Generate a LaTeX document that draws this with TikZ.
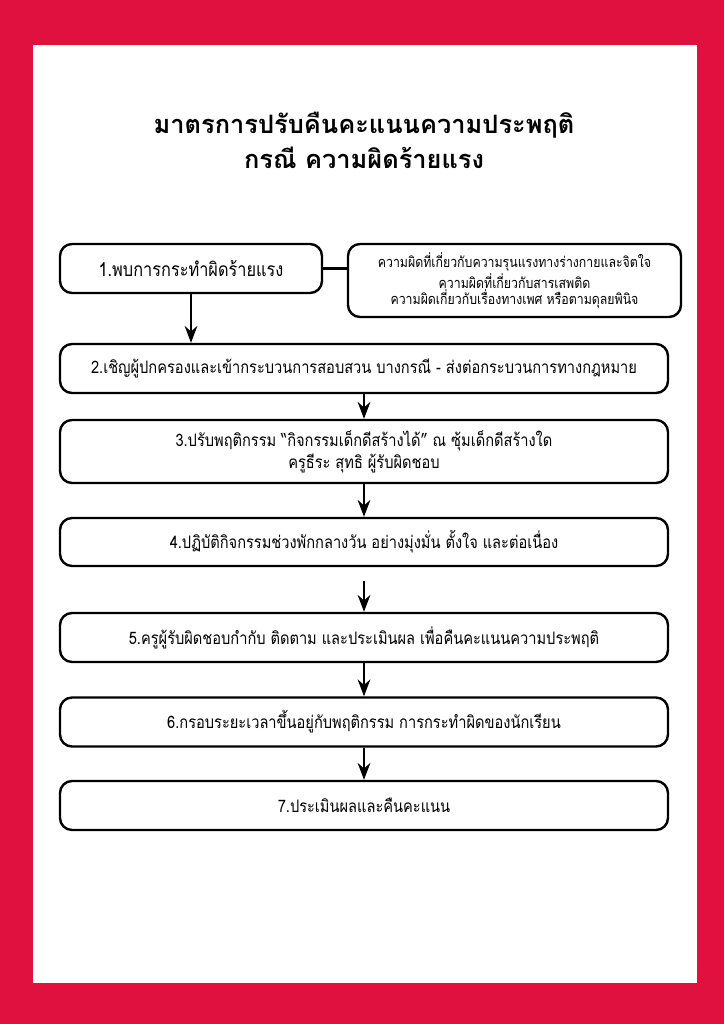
\documentclass[tikz,border=0pt]{standalone}
\usepackage{fontspec}
\setmainfont[Script=Thai, FakeStretch=0.85]{Loma}
\newfontfamily\headfont[Script=Thai]{Loma}
\usepackage{tikz}
\usetikzlibrary{arrows.meta}
\definecolor{pagered}{RGB}{224,17,62}

\begin{document}
\begin{tikzpicture}[x=0.5pt, y=-0.5pt, >=Stealth,
  stepbox/.style={draw, line width=1.2pt, rounded corners=6pt, align=center,
    minimum width=304pt, minimum height=24.5pt, inner sep=0pt, font=\fontsize{8.6}{11}\selectfont},
  notebox/.style={stepbox, minimum width=166.5pt, minimum height=36.5pt, font=\fontsize{7.25}{8.25}\selectfont},
  flow/.style={->, line width=1.2pt}]
  % page
  \fill[pagered] (0,0) rectangle (724,1024);
  \fill[white] (33,45) rectangle (697,983);
  \useasboundingbox (0,0) rectangle (724,1024);

  % heading
  \node[align=center, font=\headfont\bfseries\fontsize{12.7}{17.5}\selectfont] (title) at (364,140)
    {มาตรการปรับคืนคะแนนความประพฤติ\\กรณี ความผิดร้ายแรง};

  % steps
  \node[stepbox, minimum width=131pt, font=\fontsize{9.6}{11}\selectfont] (b1) at (191,268.5) {1.พบการกระทำผิดร้ายแรง};
  \node[notebox] (s1) at (514.5,280.5)
    {ความผิดที่เกี่ยวกับความรุนแรงทางร่างกายและจิตใจ\\ความผิดที่เกี่ยวกับสารเสพติด\\ความผิดเกี่ยวกับเรื่องทางเพศ หรือตามดุลยพินิจ};
  \node[stepbox] (b2) at (364,368.5) {2.เชิญผู้ปกครองและเข้ากระบวนการสอบสวน บางกรณี - ส่งต่อกระบวนการทางกฎหมาย};
  \node[stepbox, minimum height=31.5pt] (b3) at (364,451.5)
    {3.ปรับพฤติกรรม “กิจกรรมเด็กดีสร้างได้” ณ ซุ้มเด็กดีสร้างใด\\ครูธีระ สุทธิ ผู้รับผิดชอบ};
  \node[stepbox, minimum height=24pt] (b4) at (364,542) {4.ปฏิบัติกิจกรรมช่วงพักกลางวัน อย่างมุ่งมั่น ตั้งใจ และต่อเนื่อง};
  \node[stepbox] (b5) at (364,637.5) {5.ครูผู้รับผิดชอบกำกับ ติดตาม และประเมินผล เพื่อคืนคะแนนความประพฤติ};
  \node[stepbox] (b6) at (364,722) {6.กรอบระยะเวลาขึ้นอยู่กับพฤติกรรม การกระทำผิดของนักเรียน};
  \node[stepbox] (b7) at (364,805.5) {7.ประเมินผลและคืนคะแนน};

  % connectors
  \draw[line width=1.2pt] (b1.east) -- (b1.east -| s1.west);
  \draw[flow] (b1.south) -- (b1.south |- b2.north);
  \draw[flow] (b2) -- (b3);
  \draw[flow] (b3) -- (b4);
  \coordinate (a4) at (364,581);
  \draw[flow] (a4) -- (b5.north);
  \draw[flow] (b5) -- (b6);
  \draw[flow] (b6) -- (b7);
\end{tikzpicture}
\end{document}
